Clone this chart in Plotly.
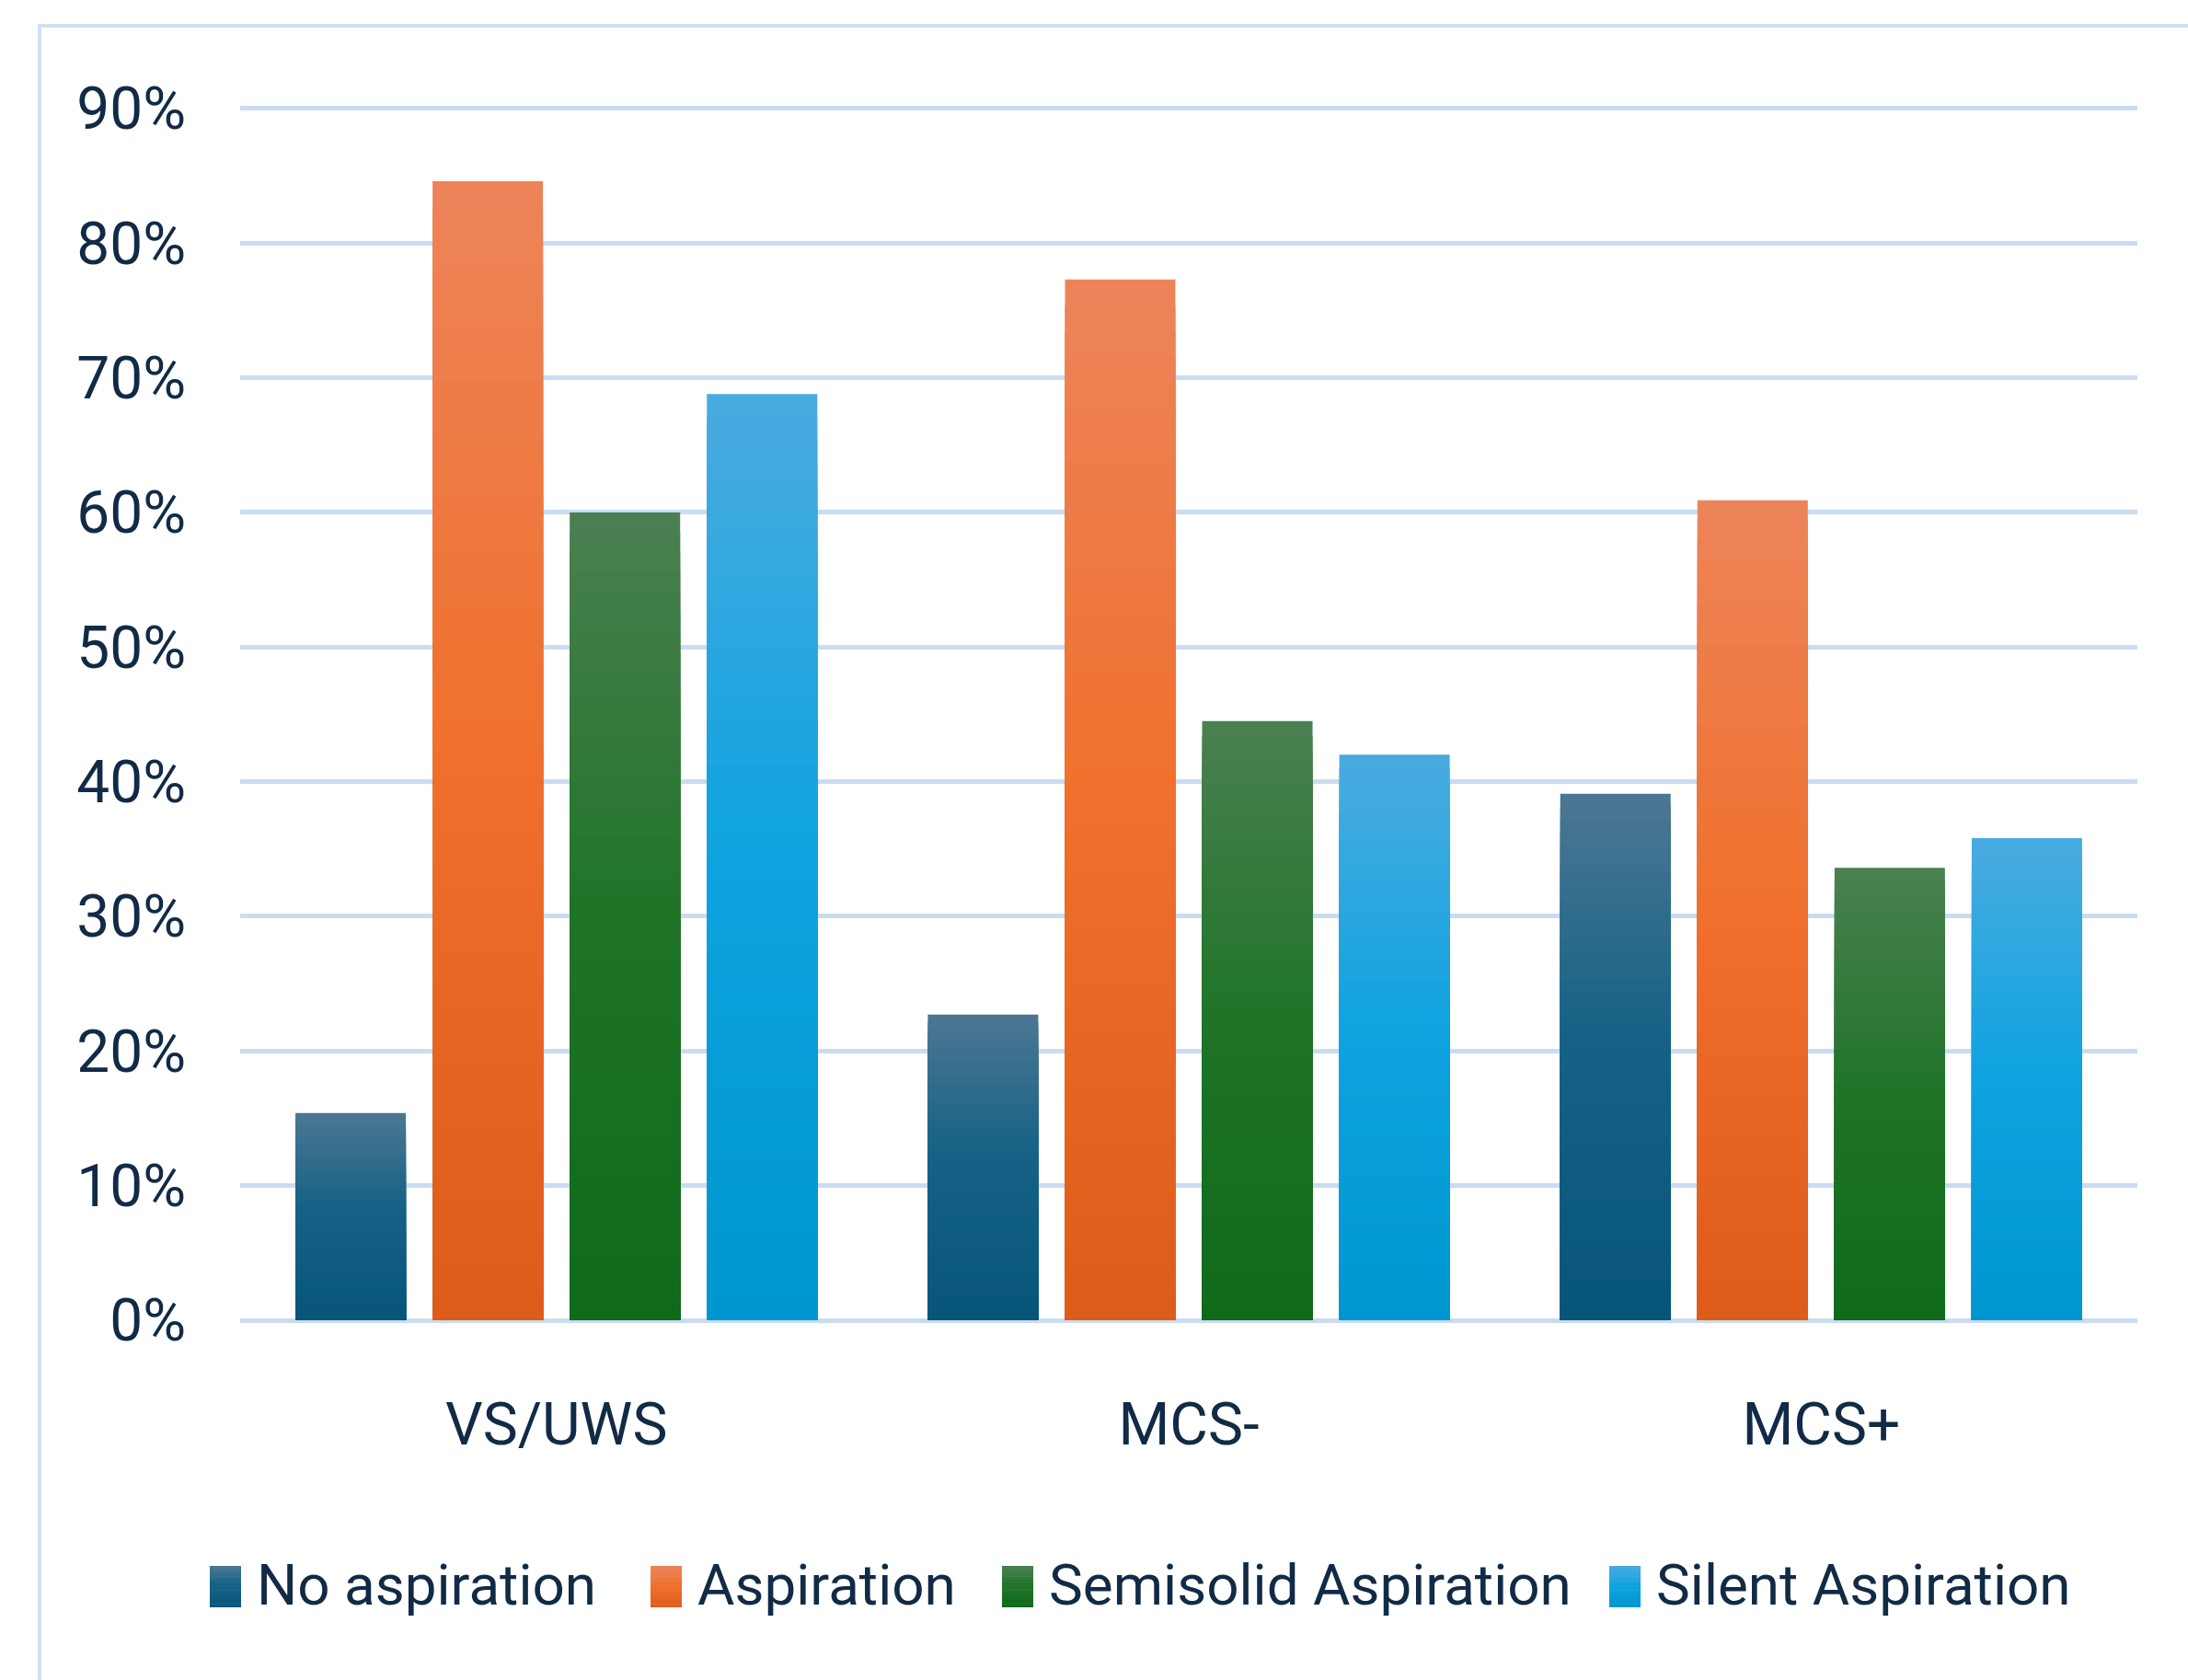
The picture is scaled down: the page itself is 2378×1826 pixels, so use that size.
import plotly.graph_objects as go

# ---- data -------------------------------------------------------------
categories = ["VS/UWS", "MCS-", "MCS+"]

no_aspiration = [0.154, 0.227, 0.391]
aspiration = [0.846, 0.773, 0.609]
semisolid_aspiration = [0.600, 0.445, 0.336]
silent_aspiration = [0.688, 0.420, 0.358]

series_names = ["No aspiration", "Aspiration", "Semisolid Aspiration", "Silent Aspiration"]
series_values = [no_aspiration, aspiration, semisolid_aspiration, silent_aspiration]

y_tick_values = [0, 0.1, 0.2, 0.3, 0.4, 0.5, 0.6, 0.7, 0.8, 0.9]
y_tick_labels = ["0%", "10%", "20%", "30%", "40%", "50%", "60%", "70%", "80%", "90%"]

# ---- style --------------------------------------------------------------
# vertical gradient stops per series: (position from top of bar, colour)
gradients = [
    [(0.0, "#4d7793"), (0.45, "#156286"), (1.0, "#08557a")],
    [(0.0, "#ed845a"), (0.5, "#f0702c"), (1.0, "#de5b1a")],
    [(0.0, "#4b8052"), (0.5, "#1f7427"), (1.0, "#0f6a1a")],
    [(0.0, "#4aabe0"), (0.5, "#0ea3e0"), (1.0, "#0096d0")],
]

FONT = "Roboto, Liberation Sans, sans-serif"
TEXT_COLOR = "#112b46"
GRID_COLOR = "#cadcf1"
N_BANDS = 40
Y_MAX = 0.902

W, H = 2378, 1826
ML, MR, MT, MB = 261, 55, 115, 391
PW, PH = W - ML - MR, H - MT - MB


def px_x(X):
    return (X - ML) / PW


def px_y(Y):
    return (H - MB - Y) / PH


def hex_to_rgb(h):
    h = h.lstrip("#")
    return tuple(int(h[i:i + 2], 16) for i in (0, 2, 4))


def gradient_color(stops, t):
    for (t0, c0), (t1, c1) in zip(stops[:-1], stops[1:]):
        if t <= t1:
            f = 0 if t1 == t0 else (t - t0) / (t1 - t0)
            a, b = hex_to_rgb(c0), hex_to_rgb(c1)
            r, g, bl = (round(a[i] + (b[i] - a[i]) * f) for i in range(3))
            return f"rgb({r},{g},{bl})"
    r, g, bl = hex_to_rgb(stops[-1][1])
    return f"rgb({r},{g},{bl})"


fig = go.Figure()

# each bar is drawn as nested bars of decreasing height, so the colour
# runs from light at the top of the bar to dark at its base
for name, values, stops in zip(series_names, series_values, gradients):
    for k in range(N_BANDS):
        frac = 1 - k / N_BANDS
        t = (k + 0.5) / N_BANDS
        main = k == 0
        fig.add_trace(go.Bar(
            x=categories,
            y=[v * frac for v in values],
            name=name,
            legendgroup=name,
            offsetgroup=name,
            showlegend=False,
            marker=dict(color=gradient_color(stops, t), line=dict(width=0)),
            customdata=values if main else None,
            hovertemplate=(name + ": %{customdata:.1%}<extra></extra>") if main else None,
            hoverinfo=None if main else "skip",
        ))

# legend: gradient swatch + label for each series
swatch_left = [228, 707, 1089, 1749]
SW_W, SW_TOP, SW_BOT = 34, 1702, 1747
LEG_BANDS = 12
shapes = []
annotations = []
for name, stops, xl in zip(series_names, gradients, swatch_left):
    for k in range(LEG_BANDS):
        ya = SW_TOP + (SW_BOT - SW_TOP) * k / LEG_BANDS
        yb = SW_TOP + (SW_BOT - SW_TOP) * (k + 1) / LEG_BANDS + 0.6
        shapes.append(dict(
            type="rect", xref="paper", yref="paper",
            x0=px_x(xl), x1=px_x(xl + SW_W), y0=px_y(min(yb, SW_BOT)), y1=px_y(ya),
            fillcolor=gradient_color(stops, (k + 0.5) / LEG_BANDS),
            line=dict(width=0), layer="above",
        ))
    annotations.append(dict(
        text=name, xref="paper", yref="paper",
        x=px_x(xl + 49), y=px_y(1722), xanchor="left", yanchor="middle",
        showarrow=False, font=dict(family=FONT, size=62, color=TEXT_COLOR),
    ))

# outer chart frame (left and top edges visible)
shapes.append(dict(
    type="rect", xref="paper", yref="paper",
    x0=px_x(43), x1=px_x(W + 50), y0=px_y(H + 50), y1=px_y(28),
    line=dict(color="#cfe0f2", width=4), fillcolor="rgba(0,0,0,0)", layer="below",
))

fig.update_layout(
    width=W, height=H,
    margin=dict(l=ML, r=MR, t=MT, b=MB, pad=0),
    paper_bgcolor="white", plot_bgcolor="white",
    barmode="group", bargap=0.1325, bargroupgap=0.195,
    showlegend=False,
    shapes=shapes, annotations=annotations,
    font=dict(family=FONT, color=TEXT_COLOR),
)

fig.update_yaxes(
    range=[0, Y_MAX],
    tickmode="array", tickvals=y_tick_values, ticktext=y_tick_labels,
    tickfont=dict(family=FONT, size=64, color=TEXT_COLOR),
    showgrid=True, gridcolor=GRID_COLOR, gridwidth=5,
    zeroline=True, zerolinecolor=GRID_COLOR, zerolinewidth=5,
    showline=False, ticks="", ticklabelstandoff=58,
)
fig.update_xaxes(
    tickfont=dict(family=FONT, size=64, color=TEXT_COLOR),
    showgrid=False, zeroline=False, showline=False, ticks="",
    ticklabelstandoff=70,
)

fig.write_html("out.html")
